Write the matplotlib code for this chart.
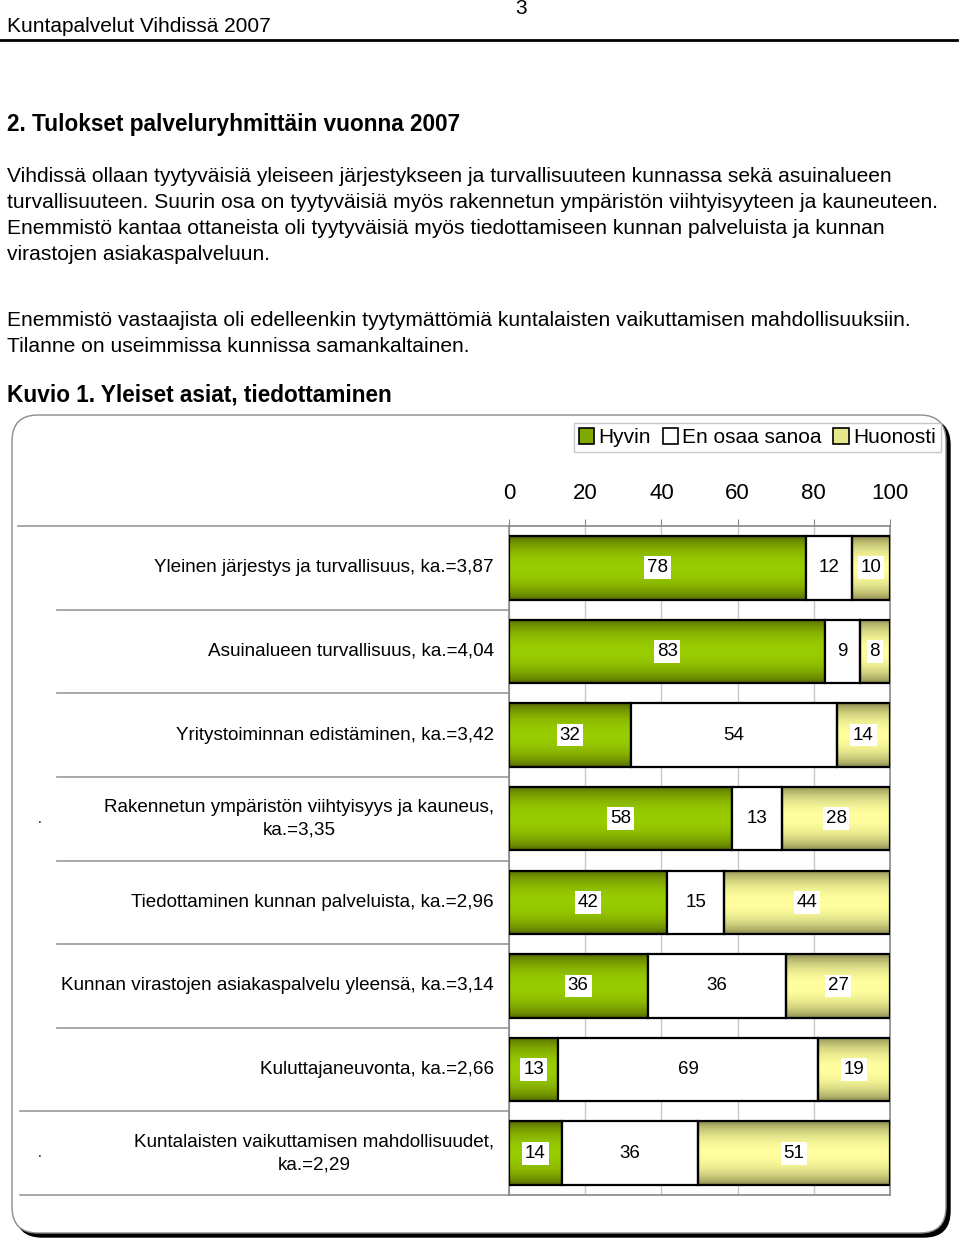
import numpy as np
import matplotlib
matplotlib.use("Agg")
import matplotlib.pyplot as plt
from matplotlib.patches import FancyBboxPatch, Patch
from matplotlib.transforms import blended_transform_factory

plt.rcParams["font.family"] = ["Liberation Sans", "DejaVu Sans"]

W, H = 960, 1241

# ---- data -------------------------------------------------------------
categories = [
    "Yleinen järjestys ja turvallisuus, ka.=3,87",
    "Asuinalueen turvallisuus, ka.=4,04",
    "Yritystoiminnan edistäminen, ka.=3,42",
    "Rakennetun ympäristön viihtyisyys ja kauneus,\nka.=3,35",
    "Tiedottaminen kunnan palveluista, ka.=2,96",
    "Kunnan virastojen asiakaspalvelu yleensä, ka.=3,14",
    "Kuluttajaneuvonta, ka.=2,66",
    "Kuntalaisten vaikuttamisen mahdollisuudet,\nka.=2,29",
]
hyvin = [78, 83, 32, 58, 42, 36, 13, 14]
en_osaa = [12, 9, 54, 13, 15, 36, 69, 36]
huonosti = [10, 8, 14, 28, 44, 27, 19, 51]
series_names = ["Hyvin", "En osaa sanoa", "Huonosti"]
xticks = [0, 20, 40, 60, 80, 100]

header = "Kuntapalvelut Vihdissä 2007"
page_no = "3"
heading = "2. Tulokset palveluryhmittäin vuonna 2007"
para1 = [
    "Vihdissä ollaan tyytyväisiä yleiseen järjestykseen ja turvallisuuteen kunnassa sekä asuinalueen",
    "turvallisuuteen. Suurin osa on tyytyväisiä myös rakennetun ympäristön viihtyisyyteen ja kauneuteen.",
    "Enemmistö kantaa ottaneista oli tyytyväisiä myös tiedottamiseen kunnan palveluista ja kunnan",
    "virastojen asiakaspalveluun.",
]
para2 = [
    "Enemmistö vastaajista oli edelleenkin tyytymättömiä kuntalaisten vaikuttamisen mahdollisuuksiin.",
    "Tilanne on useimmissa kunnissa samankaltainen.",
]
figure_title = "Kuvio 1. Yleiset asiat, tiedottaminen"

# gradient colours (edge, middle)
GREEN = ((0.30, 0.37, 0.0), (0.60, 0.80, 0.0))
YELLOW = ((0.50, 0.50, 0.28), (1.0, 1.0, 0.62))

fig = plt.figure(figsize=(W / 100, H / 100), dpi=100)

# page layer in pixel coordinates
pg = fig.add_axes([0, 0, 1, 1], zorder=0)
pg.set_xlim(0, W)
pg.set_ylim(H, 0)
pg.axis("off")

pg.text(7, 26, header, fontsize=15, va="center", ha="left")
pg.text(521, 9, page_no, fontsize=15, va="center", ha="center")
pg.plot([0, 957], [40, 40], color="black", lw=2)

pg.text(7, 125, heading, fontsize=16.3, fontweight="bold", va="center")
for i, line in enumerate(para1):
    pg.text(7, 176 + i * 26.3, line, fontsize=15.1, va="center")
for i, line in enumerate(para2):
    pg.text(7, 320 + i * 26.3, line, fontsize=15.1, va="center")
pg.text(7, 395, figure_title, fontsize=16.3, fontweight="bold", va="center")

# chart frame with shadow
shadow = FancyBboxPatch((16, 419), 934, 818, boxstyle="round,pad=0,rounding_size=26",
                        facecolor="black", edgecolor="black", lw=1)
frame = FancyBboxPatch((12, 415), 934, 818, boxstyle="round,pad=0,rounding_size=26",
                       facecolor="white", edgecolor="#8c8c8c", lw=1)
pg.add_patch(shadow)
pg.add_patch(frame)

# ---- bar chart -------------------------------------------------------
ax = fig.add_axes([509 / W, 1 - 1195 / H, 381 / W, 669 / H], zorder=2)
ax.patch.set_alpha(0)

n = len(categories)
y = np.arange(n)
vals = np.array([hyvin, en_osaa, huonosti], dtype=float)
share = vals / vals.sum(axis=0) * 100
lefts = np.vstack([np.zeros(n), np.cumsum(share, axis=0)[:-1]])

t = np.linspace(0, 1, 64)
prof = np.sin(np.pi * t) ** 0.6


def grad_img(c):
    edge, mid = np.array(c[0]), np.array(c[1])
    return (edge[None, :] + (mid - edge)[None, :] * prof[:, None])[:, None, :]


fills = [GREEN, None, YELLOW]
for k in range(3):
    bars = ax.barh(y, share[k], left=lefts[k], height=0.76,
                   facecolor="white" if fills[k] is None else "none",
                   edgecolor="black", lw=1.6, zorder=3)
    for j, p in enumerate(bars.patches):
        x0, y0 = p.get_x(), p.get_y()
        x1, y1 = x0 + p.get_width(), y0 + p.get_height()
        if fills[k] is not None:
            ax.imshow(grad_img(fills[k]), extent=[x0, x1, y1, y0], aspect="auto",
                      interpolation="bilinear", zorder=2)
        box = None if fills[k] is None else dict(facecolor="white", edgecolor="none", pad=2)
        ax.text((x0 + x1) / 2, y[j], str(int(vals[k, j])), ha="center", va="center",
                fontsize=13.5, bbox=box, zorder=4)

ax.set_xlim(0, 100)
ax.set_ylim(n - 0.5, -0.5)
ax.set_xticks(xticks)
ax.xaxis.tick_top()
ax.tick_params(axis="x", labelsize=16, length=5, color="#888888", pad=11)
ax.set_yticks([])
ax.grid(axis="x", color="#c8c8c8", lw=1, zorder=0)
for s in ax.spines.values():
    s.set_color("#888888")
    s.set_linewidth(1.2)

# row separators and labels in the label area
tr = blended_transform_factory(fig.transFigure, ax.transData)
sep_left = [18, 57, 57, 57, 57, 57, 57, 20, 20]
for i, xl in enumerate(sep_left):
    ax.plot([xl / W, 509 / W], [i - 0.5, i - 0.5], transform=tr, color="#999999",
            lw=1.2, clip_on=False)
for j, lab in enumerate(categories):
    ax.text(494 / W, y[j], lab, transform=tr, ha="right", va="center",
            multialignment="center", fontsize=13.6, linespacing=1.45)
    if "\n" in lab:
        ax.text(40 / W, y[j], ".", transform=tr, ha="center", va="center", fontsize=10)

# legend
handles = [Patch(facecolor="#7fa800", edgecolor="black", lw=1.2),
           Patch(facecolor="white", edgecolor="black", lw=1.2),
           Patch(facecolor="#e6e68a", edgecolor="black", lw=1.2)]
leg = fig.legend(handles, series_names, loc="upper right", ncol=3,
                 bbox_to_anchor=(941 / W, 1 - 423 / H), borderaxespad=0, fontsize=15,
                 handlelength=0.75, handleheight=0.75, handletextpad=0.2,
                 columnspacing=0.55, borderpad=0.25, fancybox=False, frameon=True)
leg.get_frame().set_edgecolor("#bbbbbb")
leg.get_frame().set_linewidth(1)

fig.savefig("out.png", dpi=100)
